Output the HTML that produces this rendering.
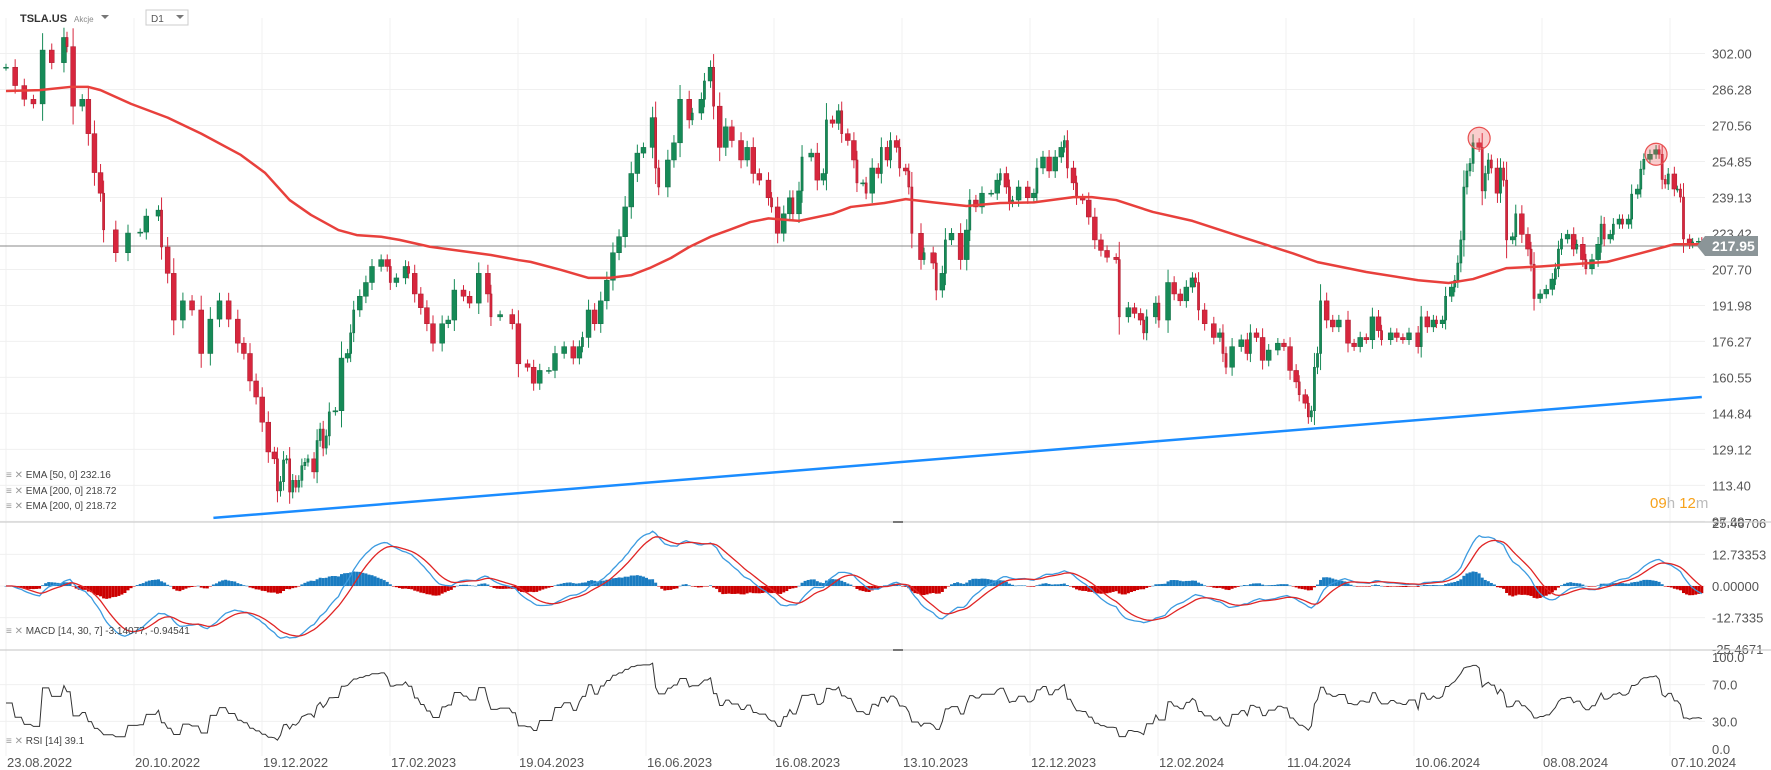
<!DOCTYPE html>
<html><head><meta charset="utf-8">
<style>
html,body{margin:0;padding:0;background:#fff;}
body{width:1771px;height:770px;overflow:hidden;font-family:"Liberation Sans",sans-serif;}
svg{display:block;}
</style></head>
<body>
<svg id="chart" width="1771" height="770" viewBox="0 0 1771 770" xmlns="http://www.w3.org/2000/svg">
<g id="grid"></g>
<g id="main"></g>
<g id="macd"></g>
<g id="rsi"></g>
<g id="axes"></g>
<g>
  <text x="20" y="22" font-size="11" font-weight="bold" fill="#333">TSLA.US</text>
  <text x="74" y="22" font-size="8" fill="#888">Akcje</text>
  <path d="M101 15 L109 15 L105 19 Z" fill="#777"/>
  <rect x="146" y="10" width="42" height="15" fill="#fff" stroke="#ccc"/>
  <text x="151" y="22" font-size="10" fill="#555">D1</text>
  <path d="M176 15 L184 15 L180 19 Z" fill="#777"/>
</g>
<g font-size="10" fill="#444">
  <text x="6" y="478"><tspan fill="#999">≡ ✕</tspan> EMA [50, 0] 232.16</text>
  <text x="6" y="494"><tspan fill="#999">≡ ✕</tspan> EMA [200, 0] 218.72</text>
  <text x="6" y="509"><tspan fill="#999">≡ ✕</tspan> EMA [200, 0] 218.72</text>
  <text x="6" y="634"><tspan fill="#999">≡ ✕</tspan> MACD [14, 30, 7] -3.14077, -0.94541</text>
  <text x="6" y="744"><tspan fill="#999">≡ ✕</tspan> RSI [14] 39.1</text>
</g>
<text x="1650" y="508" font-size="15"><tspan fill="#f7a21b">09</tspan><tspan fill="#bbb">h </tspan><tspan fill="#f7a21b">12</tspan><tspan fill="#bbb">m</tspan></text>
</svg>
<script>
// ---- data ----
const day = [0,3,6,9,12,15,19,20,22,25,27,29,31,32,36,40,44,46,50,51,53,55,58,61,64,67,70,73,76,78,80,
82,84,86,88,89,90,91,92,93,94,95,96,97,98,99,101,102,103,104,105,106,108,
110,112,113,114,116,118,120,123,125,126,128,131,132,134,136,138,140,143,145,147,150,152,155,158,159,162,166,
168,171,173,175,178,180,183,186,188,189,191,193,195,197,199,201,203,205,207,209,212,213,214,217,219,221,224,225,228,229,231,232,234,236,238,241,243,245,247,250,251,253,255,257,258,260,261,264,266,268,269,271,273,274,276,278,279,281,282,284,286,287,289,290,292,293,295,296,297,300,301,304,305,307,308,310,313,315,316,318,320,323,325,326,
328,329,330,332,335,337,338,340,342,344,346,347,348,350,351,353,355,357,359,361,364,365,368,370,372,373,374,377,378,381,383,385,387,389,390,391,393,396,398,399,400,402,405,407,408,410,412,414,417,419,421,423,424,426,427,428,429,430,431,433,435,437,440,442,444,446,448,450,451,454,456,458,460,463,464,466,468,469,471,472,474,475,476,477,478,479,480,481,483,484,485,486,487,489,490,491,492,494,495,
497,499,500,501,503,505,507,508,509,510,512,514,515,517,518,520,522,523,524,526,527,529,530,532,533,535,536,537,539,541,542,543,544,545,547,548,549,550,552,553,555,556];
const close = [296,288,282,280,303.5,298,309,305,279,282,267,250,241,225,215,223.6,224,231,233.6,217.5,206,185.6,194,190,171,186,194,186,175.5,171,159,
152,141,128,125,111,115,124.5,125,110.5,115.6,112.6,115.6,122,123.5,125,119.3,133,138,129.7,135,145.5,146,
169,171,180,190,196,202,209,212,209,202,204,209,206,197,191,184,175.5,184,185.6,198.7,196,193,206,197,187,188,184,
166.5,165,158,163.6,163.6,171,174,169,174,178,190,184,194,203,215,222,235,249.6,258.5,261,274,252,243.7,255.5,263,282,273,276,282,290,296,279,261,270,264,255.5,261,249.6,246.7,239,235,223.5,232,239,232,242,256.8,258.5,246.7,249.6,273,271.5,277,267,264,255.5,245.5,245.5,241,252,249.6,261,255.5,264,261,252,250.7,243.7,223.5,212,215,210.5,198.7,206,220.6,223.5,212,224.9,238,235,241,241,246.7,249.6,
243.7,236.7,238,243.7,239,241,252,256.8,250.7,256.8,261,264,252,245.5,239,238,230.6,220.6,216,213,212,187,191,188.5,185.6,180,187,193,185.6,202,197,194,200,204,202,190,184,178,180,171,165,174,177,171,180,178,168,172.5,175.5,174,163.6,158.6,153,149.3,143.3,146,165,171,194,185.6,182.6,185.6,175.5,174,178,177,187,181,177,180,178,177,180,174,187,182.6,185.6,184,185.6,196,200,203,210.5,220.6,243.7,250.7,254,263,261,242,249.6,255.5,252,241,252,246.7,220.6,222,232,
223,216.6,210,195,197,199,203.5,208,216.6,221,223,216.6,218.7,212,208,212,218.7,227.5,221,223,227.5,229.7,227.5,229.7,240.6,242.8,251.5,255.8,258,260,258,247,245,249.4,242.8,242.8,239.3,221,218.7,219.7,220,218.7];
const emaDay = [0,11,21,27,31,41,53,64,77,85,93,100,109,115,123,129,139,149,159,168,172,182,191,198,205,211,218,224,231,237,244,250,260,271,277,288,295,304,315,326,337,350,356,364,376,389,406,422,430,446,463,473,481,492,503,514,525,536,547,556];
const emaVal = [285.6,286,287.4,287.4,286,280,274,267,257.7,249.8,238,231.5,224.9,222.7,222,220.6,217.6,215.8,214,211.8,211,207.5,204,204,205.2,208.3,212.7,217.5,222,224.9,228.4,230,228.9,232,235,236.7,238.4,237,235.4,236.7,237,239.3,239.3,238,232.8,228.9,221.5,214.7,210.9,206.6,203,201.8,203.5,208.3,209,210,211,214.8,218.7,218.7];
const trendDay = [68,556];
const trendVal = [99.2,152];
const markDay = [483,541];
const markVal = [265,258];
const priceTicks = ["302.00","286.28","270.56","254.85","239.13","223.42","207.70","191.98","176.27","160.55","144.84","129.12","113.40","97.69"];
const macdTicks = ["25.46706","12.73353","0.00000","-12.7335","-25.4671"];
const macdTickVals = [25.46706,12.73353,0,-12.73353,-25.4671];
const rsiTicks = [100,70,30,0];
const dateLabels = ["23.08.2022","20.10.2022","19.12.2022","17.02.2023","19.04.2023","16.06.2023","16.08.2023","13.10.2023","12.12.2023","12.02.2024","11.04.2024","10.06.2024","08.08.2024","07.10.2024"];
const lastPrice = 217.95;

// ---- scales ----
const X = d => 6 + d * 3.05;
const Y = p => 53.5 + (302 - p) * 2.29;
const YM = v => 586 - v * 2.48;
const YR = v => 749 - v * 0.92;
const NS = "http://www.w3.org/2000/svg";
function mk(tag, parent, attrs){const e=document.createElementNS(NS,tag);for(const k in attrs)e.setAttribute(k,attrs[k]);parent.appendChild(e);return e;}

const grid=document.getElementById('grid'), main=document.getElementById('main'), mg=document.getElementById('macd'), rg=document.getElementById('rsi'), axes=document.getElementById('axes');

dateLabels.forEach((lab,i)=>{
  const x=6+i*128;
  const l=mk('line',grid,{x1:x,y1:18,x2:x,y2:756,stroke:'#f0f0f0','stroke-width':1});
  
  
  const t=mk('text',axes,{x:x+1,y:767,'font-size':13,fill:'#555'});
  t.textContent=lab;
  
  
});
priceTicks.forEach(s=>{
  const y=Y(parseFloat(s));
  const l=mk('line',grid,{x1:0,y1:y,x2:1705,y2:y,stroke:'#f0f0f0','stroke-width':1});
  
  
  const t=mk('text',axes,{x:1712,y:y+5,'font-size':13,fill:'#555'});
  t.textContent=s;
  
  
});
macdTicks.forEach((s,i)=>{
  const y=YM(macdTickVals[i]);
  if(i>0&&i<4){const l=mk('line',grid,{x1:0,y1:y,x2:1705,y2:y,stroke:'#f0f0f0'});
  
  }
  const t=mk('text',axes,{x:1712,y:y+5,'font-size':13,fill:'#555'});
  t.textContent=s;
  
  
});
rsiTicks.forEach(v=>{
  const y=YR(v);
  if(v===70||v===30){const l=mk('line',grid,{x1:0,y1:y,x2:1705,y2:y,stroke:'#f0f0f0'});
  
  }
  const t=mk('text',axes,{x:1712,y:y+5,'font-size':13,fill:'#555'});
  t.textContent=v.toFixed(1);
  
  
});
[522,650].forEach(y=>{
  const l=mk('line',axes,{x1:0,y1:y,x2:1771,y2:y,stroke:'#cfcfcf','stroke-width':1.2});
  
  
  const h=mk('line',axes,{x1:893,y1:y,x2:903,y2:y,stroke:'#777','stroke-width':2});
  
  
});

const lp=mk('line',main,{x1:0,y1:Y(lastPrice),x2:1703,y2:Y(lastPrice),stroke:'#888','stroke-width':1});



for(let i=0;i<close.length;i++){
  const c=close[i], o=i>0?close[i-1]:close[i];
  const gap=i>0?day[i]-day[i-1]:2;
  const w=Math.max(2.2,Math.min(5,gap*3.05-1.2));
  const x=X(day[i]);
  const up=c>=o, col=up?'#168a57':'#d7263d';
  const hi=Math.max(o,c)+1.5+Math.abs(c-o)*0.25, lo=Math.min(o,c)-1.5-Math.abs(c-o)*0.25;
  const wk=mk('line',main,{x1:x,y1:Y(hi),x2:x,y2:Y(lo),stroke:col,'stroke-width':1});
  
  
  const top=Y(Math.max(o,c)), h=Math.max(1,Y(Math.min(o,c))-top);
  const b=mk('rect',main,{x:x-w/2,y:top,width:w,height:h,fill:col,stroke:up?'#0f6b43':'#a81c2e','stroke-width':0.5});
  
  
}
const ep=mk('polyline',main,{points:emaDay.map((d,i)=>X(d)+','+Y(emaVal[i])).join(' '),fill:'none',stroke:'#e8403c','stroke-width':2.5,'stroke-linejoin':'round'});


const tl=mk('line',main,{x1:X(trendDay[0]),y1:Y(trendVal[0]),x2:X(trendDay[1]),y2:Y(trendVal[1]),stroke:'#1a8cff','stroke-width':2.5});


markDay.forEach((d,i)=>{
  const c=mk('circle',main,{cx:X(d),cy:Y(markVal[i]),r:11,fill:'rgba(240,90,90,0.3)',stroke:'#e85050','stroke-width':1.2});
  
  
});
const tag=mk('path',axes,{d:`M1697 ${Y(lastPrice)} L1705 ${Y(lastPrice)-10} L1758 ${Y(lastPrice)-10} L1758 ${Y(lastPrice)+10} L1705 ${Y(lastPrice)+10} Z`,fill:'#8b9598'});


const tt=mk('text',axes,{x:1712,y:Y(lastPrice)+5,'font-size':14,'font-weight':'bold',fill:'#fff'});
tt.textContent=lastPrice.toFixed(2);



const maxDay=day[day.length-1];
const daily=[]; let j=0;
for(let d=0; d<=maxDay; d++){ while(j+1<day.length && day[j+1]<=d) j++; daily.push(close[j]); }
function ema(arr,n){const a=2/(n+1);const out=[];let v=arr[0];arr.forEach((x,i)=>{v=i===0?x:a*x+(1-a)*v;out.push(v);});return out;}
const e14=ema(daily,14), e30=ema(daily,30);
const macdLine=e14.map((v,i)=>v-e30[i]);
const sig=ema(macdLine,7);
const clampM=v=>Math.max(524,Math.min(648,YM(v)));
macdLine.forEach((m,d)=>{
  const h=m-sig[d];
  const y0=YM(0), y1=clampM(h);
  const r=mk('rect',mg,{x:X(d)-1.5,y:Math.min(y0,y1),width:3,height:Math.max(0.5,Math.abs(y1-y0)),fill:h>=0?'#1a7cc1':'#cc0000'});
  
  
});
const ml=mk('polyline',mg,{points:macdLine.map((v,d)=>X(d)+','+clampM(v)).join(' '),fill:'none',stroke:'#3c9be0','stroke-width':1.3});


const sl=mk('polyline',mg,{points:sig.map((v,d)=>X(d)+','+clampM(v)).join(' '),fill:'none',stroke:'#e02525','stroke-width':1.3});



const rsi=[]; let ag=0, al=0;
for(let d=0; d<daily.length; d++){
  const ch=d>0?daily[d]-daily[d-1]:0;
  const g=Math.max(ch,0), l=Math.max(-ch,0);
  if(d===0){ag=0.8;al=0.8;} else {ag=(ag*13+g)/14; al=(al*13+l)/14;}
  rsi.push(al===0?100:100-100/(1+ag/al));
}
const rl=mk('polyline',rg,{points:rsi.map((v,d)=>X(d)+','+YR(v)).join(' '),fill:'none',stroke:'#333','stroke-width':1});


</script>
</body></html>
